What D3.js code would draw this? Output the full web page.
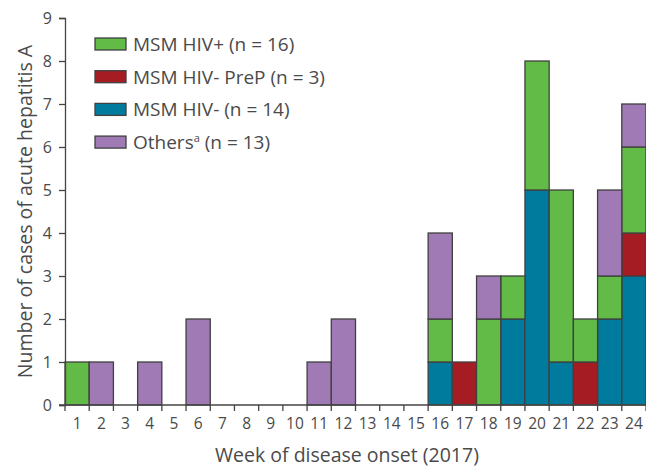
<!DOCTYPE html>
<html>
<head>
<meta charset="utf-8">
<script src="https://cdn.jsdelivr.net/npm/d3@7"></script>
<style>
  body { margin: 0; background: #fff; }
  svg text { font-family: "Open Sans", "Noto Sans", sans-serif; fill: #4a4a4a; }
</style>
</head>
<body>
<svg id="chart" width="646" height="470"></svg>
<script>
// weeks of disease onset
const weeks = d3.range(1, 25);
// series values per week (stack order bottom -> top)
const msmHivNeg   = [0,0,0,0,0,0,0,0,0,0,0,0,0,0,0,1,0,0,2,5,1,0,2,3];
const msmHivPrep  = [0,0,0,0,0,0,0,0,0,0,0,0,0,0,0,0,1,0,0,0,0,1,0,1];
const msmHivPos   = [1,0,0,0,0,0,0,0,0,0,0,0,0,0,0,1,0,2,1,3,4,1,1,2];
const others      = [0,1,0,1,0,2,0,0,0,0,1,2,0,0,0,2,0,1,0,0,0,0,2,1];
const yTicks = d3.range(0, 10);

const series = [
  { key: "neg",  values: msmHivNeg,  color: "#007b9e", label: "MSM HIV- (n = 14)" },
  { key: "prep", values: msmHivPrep, color: "#a51c22", label: "MSM HIV- PreP (n = 3)" },
  { key: "pos",  values: msmHivPos,  color: "#62bb46", label: "MSM HIV+ (n = 16)" },
  { key: "oth",  values: others,     color: "#a07ab5", label: "Others" }
];
const legendOrder = ["pos", "prep", "neg", "oth"];

const svg = d3.select("#chart");
const margin = { left: 65, right: 0, top: 18, bottom: 65 };
const W = 646, H = 470;

const x = d3.scaleBand().domain(weeks).range([margin.left, W - margin.right]).padding(0);
const y = d3.scaleLinear().domain([0, 9]).range([H - margin.bottom, margin.top]);

const table = weeks.map((w, i) => {
  const row = { week: w };
  series.forEach(s => row[s.key] = s.values[i]);
  return row;
});
const stack = d3.stack().keys(series.map(s => s.key))(table);

// bars
svg.append("g").selectAll("g")
  .data(stack)
  .join("g")
  .attr("fill", (d, i) => series[i].color)
  .selectAll("rect")
  .data(d => d.filter(v => v[1] - v[0] > 0))
  .join("rect")
  .attr("x", d => x(d.data.week))
  .attr("y", d => y(d[1]))
  .attr("width", x.bandwidth())
  .attr("height", d => y(d[0]) - y(d[1]))
  .attr("stroke", "#404040")
  .attr("stroke-width", 1.3);

// y axis
const yAxis = svg.append("g")
  .attr("transform", `translate(${margin.left},0)`)
  .call(d3.axisLeft(y).tickValues(yTicks).tickSize(6).tickPadding(7));
yAxis.select(".domain").attr("stroke", "#444").attr("stroke-width", 1.3);
yAxis.selectAll(".tick line").attr("stroke", "#444").attr("stroke-width", 1.3);
yAxis.selectAll("text").attr("font-size", 16).attr("fill", "#4a4a4a");

// x axis: ticks on band edges, labels centred in bands
const xg = svg.append("g").attr("transform", `translate(0,${y(0)})`);
xg.append("line")
  .attr("x1", margin.left - 6).attr("x2", W)
  .attr("stroke", "#444").attr("stroke-width", 1.3);
xg.selectAll("line.edge")
  .data(weeks.concat([25]))
  .join("line")
  .attr("class", "edge")
  .attr("x1", (d, i) => i < weeks.length ? x(d) : x(24) + x.bandwidth())
  .attr("x2", (d, i) => i < weeks.length ? x(d) : x(24) + x.bandwidth())
  .attr("y1", 0).attr("y2", 6)
  .attr("stroke", "#444").attr("stroke-width", 1.3);
xg.selectAll("text")
  .data(weeks)
  .join("text")
  .attr("x", d => x(d) + x.bandwidth() / 2)
  .attr("y", 24)
  .attr("text-anchor", "middle")
  .attr("font-size", 15.5)
  .text(d => d);

// axis titles
svg.append("text")
  .attr("x", 347).attr("y", 462)
  .attr("text-anchor", "middle")
  .attr("font-size", 19.5)
  .text("Week of disease onset (2017)");
svg.append("text")
  .attr("transform", `translate(32,${(y(0) + y(9)) / 2}) rotate(-90)`)
  .attr("text-anchor", "middle")
  .attr("font-size", 19.5)
  .text("Number of cases of acute hepatitis A");

// legend
const legend = svg.append("g").attr("transform", "translate(95,38)");
legendOrder.forEach((k, i) => {
  const s = series.find(d => d.key === k);
  const g = legend.append("g").attr("transform", `translate(0,${i * 32.7})`);
  g.append("rect")
    .attr("width", 31).attr("height", 12)
    .attr("fill", s.color)
    .attr("stroke", "#404040").attr("stroke-width", 1.3);
  const t = g.append("text")
    .attr("x", 38).attr("y", 13)
    .attr("font-size", 19);
  if (k === "oth") {
    t.append("tspan").text("Others");
    t.append("tspan").attr("font-size", 11).attr("dy", -7).text("a");
    t.append("tspan").attr("dy", 7).text(" (n = 13)");
  } else {
    t.text(s.label);
  }
});
</script>
</body>
</html>
